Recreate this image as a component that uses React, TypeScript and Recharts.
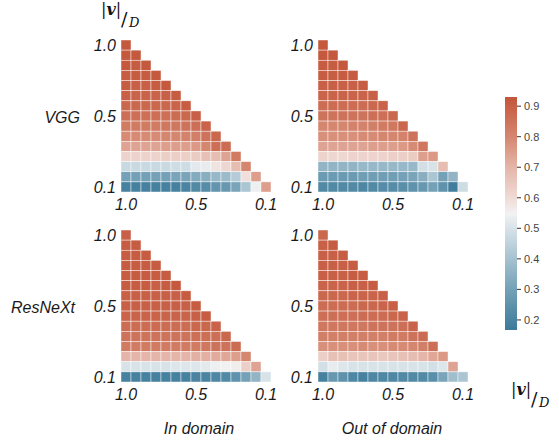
import { ScatterChart, Scatter, XAxis, YAxis, BarChart, Bar } from 'recharts';

// tick positions (cell index) and their labels, shared by both axes
const tickPos = [0, 7, 14];
const tickLabels = ['1.0', '0.5', '0.1'];
const cbarTicks = [0.2, 0.3, 0.4, 0.5, 0.6, 0.7, 0.8, 0.9];
const VMIN = 0.167;
const VMAX = 0.93;

// lower-triangular matrices, row 0 = top (1.0) ... row 14 = bottom (0.1)
const vggIn = [
  [0.92],
  [0.92, 0.92],
  [0.92, 0.91, 0.92],
  [0.91, 0.91, 0.91, 0.92],
  [0.91, 0.90, 0.90, 0.91, 0.92],
  [0.90, 0.89, 0.89, 0.89, 0.90, 0.91],
  [0.88, 0.88, 0.88, 0.88, 0.88, 0.89, 0.91],
  [0.86, 0.86, 0.86, 0.86, 0.86, 0.87, 0.88, 0.90],
  [0.83, 0.83, 0.83, 0.83, 0.84, 0.84, 0.85, 0.86, 0.89],
  [0.79, 0.79, 0.79, 0.79, 0.80, 0.80, 0.81, 0.82, 0.85, 0.88],
  [0.74, 0.74, 0.74, 0.74, 0.75, 0.75, 0.75, 0.76, 0.80, 0.86, 0.87],
  [0.62, 0.62, 0.62, 0.62, 0.63, 0.63, 0.63, 0.64, 0.67, 0.68, 0.74, 0.83],
  [0.47, 0.47, 0.47, 0.47, 0.47, 0.48, 0.48, 0.52, 0.53, 0.58, 0.61, 0.68, 0.80],
  [0.30, 0.30, 0.30, 0.30, 0.30, 0.31, 0.31, 0.33, 0.34, 0.37, 0.38, 0.43, 0.59, 0.75],
  [0.19, 0.19, 0.19, 0.19, 0.19, 0.19, 0.20, 0.22, 0.23, 0.26, 0.27, 0.31, 0.41, 0.54, 0.75],
];

const vggOut = [
  [0.92],
  [0.92, 0.92],
  [0.91, 0.91, 0.92],
  [0.91, 0.91, 0.91, 0.91],
  [0.90, 0.90, 0.90, 0.90, 0.91],
  [0.89, 0.89, 0.89, 0.89, 0.89, 0.90],
  [0.87, 0.87, 0.87, 0.87, 0.87, 0.88, 0.89],
  [0.85, 0.85, 0.85, 0.85, 0.85, 0.86, 0.86, 0.88],
  [0.80, 0.80, 0.80, 0.81, 0.81, 0.82, 0.83, 0.84, 0.88],
  [0.78, 0.78, 0.78, 0.78, 0.79, 0.79, 0.80, 0.80, 0.81, 0.85],
  [0.74, 0.74, 0.74, 0.74, 0.74, 0.75, 0.75, 0.75, 0.76, 0.79, 0.84],
  [0.62, 0.61, 0.61, 0.62, 0.62, 0.62, 0.62, 0.63, 0.63, 0.64, 0.75, 0.76],
  [0.36, 0.36, 0.36, 0.36, 0.37, 0.37, 0.37, 0.37, 0.37, 0.37, 0.49, 0.50, 0.68],
  [0.28, 0.28, 0.28, 0.28, 0.29, 0.29, 0.29, 0.29, 0.30, 0.31, 0.34, 0.41, 0.30, 0.36],
  [0.22, 0.22, 0.22, 0.22, 0.21, 0.22, 0.23, 0.23, 0.24, 0.25, 0.27, 0.30, 0.25, 0.18, 0.48],
];

const resNextIn = [
  [0.90],
  [0.91, 0.91],
  [0.91, 0.91, 0.91],
  [0.91, 0.91, 0.91, 0.91],
  [0.91, 0.91, 0.91, 0.91, 0.91],
  [0.91, 0.91, 0.91, 0.90, 0.91, 0.92],
  [0.90, 0.90, 0.90, 0.90, 0.90, 0.90, 0.91],
  [0.90, 0.90, 0.90, 0.90, 0.90, 0.90, 0.90, 0.91],
  [0.89, 0.89, 0.89, 0.89, 0.89, 0.89, 0.89, 0.90, 0.91],
  [0.87, 0.87, 0.87, 0.87, 0.87, 0.87, 0.87, 0.88, 0.88, 0.89],
  [0.85, 0.85, 0.85, 0.85, 0.85, 0.85, 0.85, 0.86, 0.86, 0.86, 0.88],
  [0.83, 0.83, 0.83, 0.83, 0.83, 0.83, 0.83, 0.83, 0.84, 0.85, 0.85, 0.87],
  [0.70, 0.70, 0.70, 0.70, 0.70, 0.70, 0.70, 0.71, 0.71, 0.72, 0.73, 0.75, 0.80],
  [0.50, 0.50, 0.50, 0.50, 0.50, 0.51, 0.51, 0.51, 0.52, 0.54, 0.55, 0.56, 0.63, 0.74],
  [0.19, 0.19, 0.19, 0.19, 0.19, 0.19, 0.19, 0.20, 0.20, 0.21, 0.22, 0.25, 0.30, 0.36, 0.50],
];

const resNextOut = [
  [0.88],
  [0.90, 0.91],
  [0.90, 0.90, 0.91],
  [0.90, 0.90, 0.90, 0.91],
  [0.90, 0.90, 0.90, 0.91, 0.91],
  [0.89, 0.89, 0.89, 0.90, 0.90, 0.91],
  [0.88, 0.88, 0.88, 0.89, 0.89, 0.89, 0.90],
  [0.87, 0.87, 0.87, 0.87, 0.88, 0.88, 0.89, 0.90],
  [0.86, 0.86, 0.86, 0.86, 0.87, 0.87, 0.87, 0.88, 0.89],
  [0.84, 0.84, 0.84, 0.84, 0.84, 0.85, 0.85, 0.85, 0.86, 0.89],
  [0.82, 0.82, 0.82, 0.82, 0.82, 0.82, 0.82, 0.83, 0.83, 0.85, 0.87],
  [0.78, 0.78, 0.78, 0.78, 0.79, 0.78, 0.78, 0.79, 0.79, 0.80, 0.82, 0.86],
  [0.63, 0.67, 0.67, 0.66, 0.66, 0.66, 0.65, 0.66, 0.67, 0.68, 0.70, 0.73, 0.76],
  [0.49, 0.53, 0.51, 0.50, 0.50, 0.50, 0.50, 0.50, 0.50, 0.50, 0.50, 0.49, 0.51, 0.74],
  [0.19, 0.27, 0.25, 0.21, 0.19, 0.21, 0.21, 0.21, 0.22, 0.22, 0.22, 0.24, 0.31, 0.39, 0.41],
];

const cbarData = [{ name: 'scale', range: [VMIN, VMAX] }];

// diverging blue -> light -> red, as [position, colour]
const CMAP: [number, string][] = [
  [0, '#3c7a9a'],
  [0.17, '#72a0b6'],
  [0.3, '#a4c0ce'],
  [0.43, '#d5e1e7'],
  [0.5, '#f2f2f2'],
  [0.57, '#efdad4'],
  [0.7, '#e4b5a8'],
  [0.83, '#d5866f'],
  [1, '#c3553a'],
];

function hexToRgb(h: string) {
  const n = parseInt(h.slice(1), 16);
  return [(n >> 16) & 255, (n >> 8) & 255, n & 255];
}

function colorFor(v: number) {
  const t = Math.min(1, Math.max(0, (v - VMIN) / (VMAX - VMIN)));
  for (let i = 1; i < CMAP.length; i++) {
    if (t <= CMAP[i][0]) {
      const [t0, c0] = CMAP[i - 1];
      const [t1, c1] = CMAP[i];
      const f = (t - t0) / (t1 - t0);
      const a = hexToRgb(c0);
      const b = hexToRgb(c1);
      const rgb = a.map((x, k) => Math.round(x + (b[k] - x) * f));
      return `rgb(${rgb[0]},${rgb[1]},${rgb[2]})`;
    }
  }
  return CMAP[CMAP.length - 1][1];
}

const N = 15;
const PLOT_W = 150;
const PLOT_H = 152;
const CW = PLOT_W / N;
const CH = PLOT_H / N;

function toCells(rows: number[][]) {
  return rows.flatMap((r, y) => r.map((v, x) => ({ x, y, v })));
}

function HeatCell(props: any) {
  const { cx, cy, payload } = props;
  if (cx == null || cy == null) return null;
  return (
    <rect x={cx - CW / 2} y={cy - CH / 2} width={CW} height={CH}
      fill={colorFor(payload.v)} stroke="#fff" strokeOpacity={0.75} strokeWidth={0.6} />
  );
}

const FONT = '"Liberation Sans", Arial, Helvetica, sans-serif';
const tickStyle = { fontSize: 16, fontStyle: 'italic', fill: '#1a1a1a', fontFamily: FONT };
const fmtTick = (v: number) => tickLabels[tickPos.indexOf(v)] ?? '';

function Panel({ rows, left, top }: { rows: number[][]; left: number; top: number }) {
  return (
    <div style={{ position: 'absolute', left, top }}>
      <ScatterChart width={205} height={200} margin={{ top: 10, right: 10, bottom: 0, left: 0 }}>
        <XAxis type="number" dataKey="x" domain={[-0.5, 14.5]} ticks={tickPos} interval={0}
          tickFormatter={fmtTick} height={38} axisLine={false} tickLine={false}
          tickSize={0} tickMargin={7} tick={tickStyle} />
        <YAxis type="number" dataKey="y" domain={[-0.5, 14.5]} reversed ticks={tickPos} interval={0}
          tickFormatter={fmtTick} width={45} axisLine={false} tickLine={false}
          tickSize={0} tickMargin={5} tick={tickStyle} />
        <Scatter data={toCells(rows)} shape={HeatCell} isAnimationActive={false} />
      </ScatterChart>
    </div>
  );
}

function MathLabel({ x, y }: { x: number; y: number }) {
  const serif = '"DejaVu Serif", "Liberation Serif", serif';
  return (
    <g fill="#111">
      <text x={x} y={y + 15} fontSize={16} fontFamily={serif}>
        |<tspan fontWeight="bold" fontStyle="italic">v</tspan>|
      </text>
      <text x={x + 20} y={y + 26} fontSize={19} fontFamily={serif}>/</text>
      <text x={x + 28} y={y + 27} fontSize={13} fontStyle="italic" fontFamily={serif}>D</text>
    </g>
  );
}

export default function App() {
  const labelStyle = { fontSize: 16, fontStyle: 'italic', fontFamily: FONT, fill: '#1a1a1a' } as const;
  return (
    <div style={{ position: 'absolute', left: 0, top: 0, width: 559, height: 441, background: '#fff' }}>
      <Panel rows={vggIn} left={76} top={30} />
      <Panel rows={vggOut} left={273} top={30} />
      <Panel rows={resNextIn} left={76} top={220} />
      <Panel rows={resNextOut} left={273} top={220} />

      <div style={{ position: 'absolute', left: 505, top: 87 }}>
        <BarChart width={52} height={253} data={cbarData} barCategoryGap={0}
          margin={{ top: 10, right: 0, bottom: 10, left: 0 }}>
          <defs>
            <linearGradient id="cbarGrad" x1="0" y1="1" x2="0" y2="0">
              {CMAP.map(([o, c]) => <stop key={o} offset={o} stopColor={c} />)}
            </linearGradient>
          </defs>
          <XAxis dataKey="name" hide />
          <YAxis orientation="right" type="number" domain={[VMIN, VMAX]} ticks={cbarTicks} interval={0}
            width={40} axisLine={false} tickSize={4} tickMargin={3} tickLine={{ stroke: '#333' }}
            tick={{ fontSize: 11, fill: '#444', fontFamily: FONT }} tickFormatter={(v: number) => v.toFixed(1)} />
          <Bar dataKey="range" fill="url(#cbarGrad)" isAnimationActive={false} />
        </BarChart>
      </div>

      <svg width={559} height={441} style={{ position: 'absolute', left: 0, top: 0, pointerEvents: 'none' }}>
        <MathLabel x={101} y={0} />
        <MathLabel x={511} y={380} />
        <text x={80} y={123} textAnchor="end" {...labelStyle}>VGG</text>
        <text x={75} y={313} textAnchor="end" {...labelStyle}>ResNeXt</text>
        <text x={199} y={434} textAnchor="middle" {...labelStyle}>In domain</text>
        <text x={392} y={434} textAnchor="middle" {...labelStyle}>Out of domain</text>
      </svg>
    </div>
  );
}
